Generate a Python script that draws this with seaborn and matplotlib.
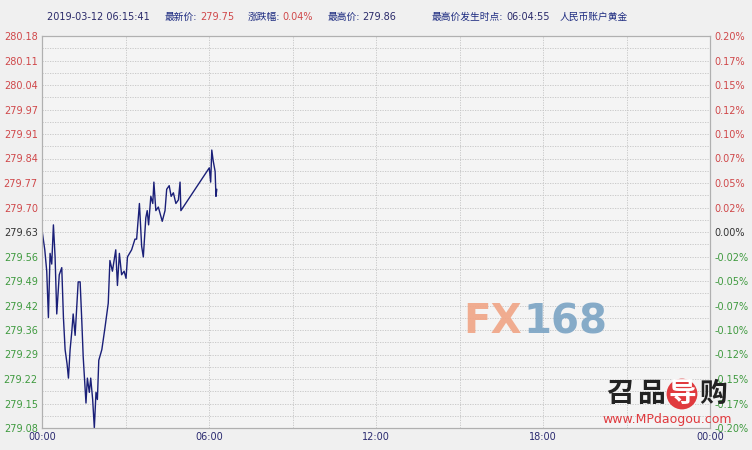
import numpy as np
import pandas as pd
import matplotlib
matplotlib.use("Agg")
import matplotlib.pyplot as plt
import seaborn as sns

# intraday gold price (hours since 00:00)
hours = [0.01, 0.10, 0.17, 0.23, 0.29, 0.35, 0.41, 0.47, 0.53, 0.62, 0.71, 0.77,
         0.83, 0.90, 0.95, 1.01, 1.07, 1.12, 1.19, 1.30, 1.37, 1.43, 1.48, 1.58,
         1.63, 1.70, 1.75, 1.82, 1.88, 1.94, 1.99, 2.04, 2.15, 2.26, 2.38, 2.44,
         2.53, 2.65, 2.71, 2.78, 2.86, 2.95, 3.02, 3.07, 3.22, 3.34, 3.40, 3.50,
         3.58, 3.64, 3.73, 3.78, 3.83, 3.91, 3.98, 4.02, 4.09, 4.18, 4.32, 4.42,
         4.48, 4.57, 4.64, 4.72, 4.81, 4.90, 4.96, 4.99, 6.01, 6.06, 6.10, 6.15,
         6.22, 6.25, 6.28]
prices = [279.63, 279.58, 279.52, 279.39, 279.57, 279.54, 279.65, 279.56, 279.40,
          279.51, 279.53, 279.39, 279.30, 279.26, 279.22, 279.30, 279.35, 279.40,
          279.34, 279.49, 279.49, 279.38, 279.28, 279.15, 279.22, 279.18, 279.22,
          279.16, 279.08, 279.18, 279.16, 279.27, 279.30, 279.36, 279.43, 279.55,
          279.52, 279.58, 279.48, 279.57, 279.51, 279.52, 279.50, 279.56, 279.58,
          279.61, 279.61, 279.71, 279.59, 279.56, 279.67, 279.69, 279.65, 279.73,
          279.71, 279.77, 279.69, 279.70, 279.66, 279.69, 279.75, 279.76, 279.73,
          279.74, 279.71, 279.72, 279.77, 279.69, 279.81, 279.77, 279.86, 279.83,
          279.80, 279.73, 279.75]

left_labels = ["279.08", "279.15", "279.22", "279.29", "279.36", "279.42", "279.49",
               "279.56", "279.63", "279.70", "279.77", "279.84", "279.91", "279.97",
               "280.04", "280.11", "280.18"]
right_labels = ["-0.20%", "-0.17%", "-0.15%", "-0.12%", "-0.10%", "-0.07%", "-0.05%",
                "-0.02%", "0.00%", "0.02%", "0.05%", "0.07%", "0.10%", "0.12%",
                "0.15%", "0.17%", "0.20%"]
x_labels = ["00:00", "06:00", "12:00", "18:00", "00:00"]
price_low, price_high = 279.08, 280.18

df = pd.DataFrame({"hour": hours, "price": prices})

sns.set_theme(style="white")
plt.rcParams['font.family'] = ['DejaVu Sans', 'Noto Sans CJK SC']

RED = "#d0484a"
GREEN = "#3f9a3f"
NAVY = "#1c2a80"
BG = "#f0f0f0"

fig = plt.figure(figsize=(7.52, 4.5), dpi=100, facecolor=BG)
ax = fig.add_axes([42/752, 1-428/450, 668/752, 392/450])
ax.set_facecolor("#f4f4f4")

sns.lineplot(data=df, x="hour", y="price", ax=ax, color="#1a1f78", linewidth=1.0)

ax.set_xlim(0, 24)
ax.set_ylim(price_low, price_high)

# grid: half-step horizontal lines, 3-hour vertical lines
for yv in np.linspace(price_low, price_high, 33):
    ax.axhline(yv, color="#c4c4c4", lw=0.6, ls=(0, (1.5, 1.5)), zorder=0)
for xv in range(3, 24, 3):
    ax.axvline(xv, color="#c4c4c4", lw=0.6, ls=(0, (1.5, 1.5)), zorder=0)

yt = np.linspace(price_low, price_high, len(left_labels))
ax.set_yticks(yt)
ax.set_yticklabels(left_labels, fontsize=7)
ax.set_xticks([0, 6, 12, 18, 24])
ax.set_xticklabels(x_labels, fontsize=7, color="#2a2a70")
ax.tick_params(length=0, pad=3)
ax.set_xlabel("")
ax.set_ylabel("")

def label_color(i):
    if i < 8:
        return GREEN
    if i == 8:
        return "#333333"
    return RED

for i, t in enumerate(ax.get_yticklabels()):
    t.set_color(label_color(i))

ax2 = ax.twinx()
ax2.set_ylim(price_low, price_high)
ax2.set_yticks(yt)
ax2.set_yticklabels(right_labels, fontsize=7)
ax2.tick_params(length=0, pad=3)
for i, t in enumerate(ax2.get_yticklabels()):
    t.set_color(label_color(i))

for a in (ax, ax2):
    for s in a.spines.values():
        s.set_color("#b0b0b0")
        s.set_linewidth(0.8)

# header line
ty = 1 - 17/450
hdr = [(47, "2019-03-12 06:15:41", "#2a2a6a"), (165, "最新价:", NAVY), (200, "279.75", RED),
       (248, "涨跌幅:", NAVY), (282, "0.04%", RED), (328, "最高价:", NAVY),
       (362, "279.86", "#2a2a6a"), (432, "最高价发生时点:", NAVY), (506, "06:04:55", "#2a2a6a"),
       (560, "人民币账户黄金", NAVY)]
for px, txt, c in hdr:
    fig.text(px/752, ty, txt, fontsize=7, color=c, va="center", ha="left",
             family=['DejaVu Sans', 'Noto Sans CJK SC'])

# watermarks
fx = fig.text(463/752, 1-322/450, "FX", fontsize=29, fontweight="bold", color="#f0a585",
              va="center", ha="left", alpha=0.9)
ax.annotate("168", xy=(1, 0), xycoords=fx, xytext=(1, 0), textcoords="offset points",
            fontsize=29, fontweight="bold", color="#7aa3c4", alpha=0.9,
            va="bottom", ha="left", annotation_clip=False)

logo = [(605, "召", "#222222"), (636, "品", "#222222"), (667, "导", "white"), (698, "购", "#222222")]
for px, ch, c in logo:
    kw = {}
    if ch == "导":
        kw["bbox"] = dict(boxstyle="circle,pad=0.05", fc="#e03a3e", ec="none")
    fig.text(px/752 + 15/752, 1-394/450, ch, fontsize=20, fontweight="bold", color=c,
             va="center", ha="center", family=['Noto Sans CJK SC'], zorder=6, **kw)
fig.text(667/752, 1-420/450, "www.MPdaogou.com", fontsize=9, color="#e03a3e",
         va="center", ha="center", zorder=6)

fig.savefig("out.png", dpi=100, facecolor=BG)
